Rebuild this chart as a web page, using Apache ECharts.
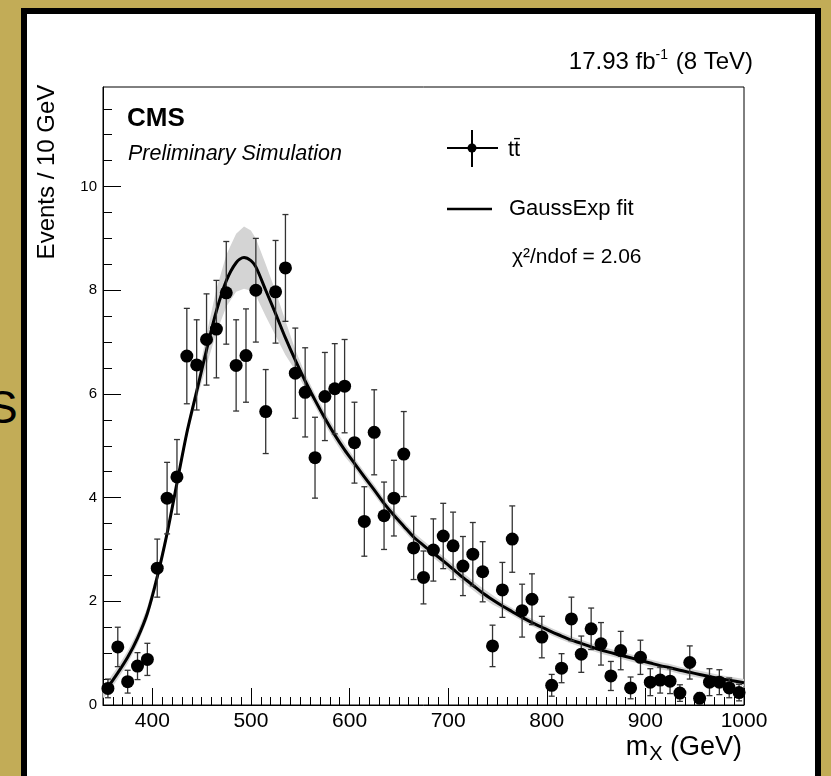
<!DOCTYPE html>
<html>
<head>
<meta charset="utf-8">
<script src="https://cdn.jsdelivr.net/npm/echarts@6/dist/echarts.min.js"></script>
<style>
  html, body { margin: 0; padding: 0; width: 831px; height: 776px; overflow: hidden; background: #c2ac57; }
  #panel { position: absolute; left: 21px; top: 8px; width: 788px; height: 800px; border: 6px solid #000; background: #fff; }
  #chart { position: absolute; left: 0; top: 0; width: 831px; height: 776px; }
  #side { position: absolute; left: -13px; top: 380px; font: 46px "Liberation Sans", Arial, sans-serif; color: #000; }
</style>
</head>
<body>
<div id="side">S</div>
<div id="panel"></div>
<div id="chart"></div>
<script>
// ---- data ----
var binCenters = [355,365,375,385,395,405,415,425,435,445,455,465,475,485,495,505,515,525,535,545,
  555,565,575,585,595,605,615,625,635,645,655,665,675,685,695,705,715,725,735,745,
  755,765,775,785,795,805,815,825,835,845,855,865,875,885,895,905,915,925,935,945,
  955,965,975,985,995];
var eventCounts = [0.32,1.12,0.45,0.75,0.88,2.64,3.99,4.40,6.73,6.56,7.05,7.25,7.95,6.55,6.74,8.00,5.66,7.97,8.43,6.40,
  6.03,4.77,5.95,6.10,6.15,5.06,3.54,5.26,3.65,3.99,4.84,3.03,2.46,2.99,3.26,3.07,2.68,2.91,2.57,1.14,
  2.22,3.20,1.82,2.04,1.31,0.38,0.71,1.66,0.98,1.47,1.18,0.56,1.05,0.33,0.92,0.44,0.48,0.46,0.23,0.82,
  0.13,0.44,0.44,0.33,0.24];
var eventErrors = [0.18,0.38,0.22,0.26,0.31,0.56,0.69,0.72,0.92,0.87,0.88,0.94,0.99,0.88,0.90,1.00,0.81,0.99,1.03,0.87,
  0.86,0.78,0.85,0.87,0.90,0.78,0.67,0.82,0.65,0.73,0.82,0.61,0.51,0.60,0.63,0.65,0.57,0.61,0.58,0.40,
  0.53,0.64,0.51,0.49,0.40,0.21,0.28,0.42,0.35,0.40,0.41,0.28,0.37,0.21,0.33,0.26,0.25,0.24,0.16,0.32,
  0.11,0.26,0.24,0.19,0.16];
var fitX = [350,355,365,375,385,395,405,415,425,435,445,455,465,475,485,493,500,505,515,525,
  535,545,555,565,575,585,595,605,615,625,635,645,655,665,675,685,695,705,715,725,
  735,745,755,765,775,785,795,805,815,825,835,845,855,865,875,885,895,905,915,925,
  935,945,955,965,975,985,1000];
var fitY = [0.25,0.35,0.62,0.92,1.29,1.77,2.47,3.31,4.28,5.25,6.05,6.85,7.6,8.18,8.53,8.63,8.57,8.45,8.0,7.55,
  7.08,6.65,6.25,5.88,5.53,5.21,4.92,4.66,4.40,4.15,3.89,3.66,3.45,3.24,3.08,2.93,2.78,2.62,2.46,2.31,
  2.16,2.03,1.91,1.80,1.69,1.59,1.50,1.41,1.33,1.25,1.19,1.12,1.06,1.01,0.96,0.91,0.86,0.81,0.76,0.72,
  0.67,0.63,0.59,0.55,0.51,0.48,0.43];
var fitBandHalf = [0.12,0.12,0.12,0.12,0.12,0.12,0.12,0.10,0.10,0.10,0.15,0.30,0.42,0.50,0.56,0.60,0.58,0.55,0.50,0.43,
  0.33,0.20,0.14,0.12,0.12,0.12,0.12,0.10,0.10,0.10,0.09,0.09,0.09,0.09,0.09,0.09,0.09,0.09,0.09,0.09,
  0.09,0.09,0.07,0.07,0.07,0.07,0.07,0.07,0.07,0.07,0.07,0.07,0.07,0.07,0.07,0.07,0.07,0.07,0.07,0.07,
  0.07,0.07,0.07,0.07,0.07,0.07,0.07];
var xMajorTicks = [400,500,600,700,800,900,1000];
var yMajorTicks = [0,2,4,6,8,10];
var xMinorTicks = []; for (var t = 360; t < 1000; t += 10) { if (t % 100 !== 0) xMinorTicks.push(t); }
var yMinorTicks = []; for (var u = 0.5; u < 11.9; u += 0.5) { if (u % 2 !== 0) yMinorTicks.push(u); }
var xRange = [350, 1000];
var yRange = [0, 11.92];

// ---- build ----
var FONT = '"Liberation Sans", Arial, sans-serif';
var pts = binCenters.map(function (x, i) { return [x, eventCounts[i]]; });
var bars = binCenters.map(function (x, i) { return [x, eventCounts[i] - eventErrors[i], eventCounts[i] + eventErrors[i]]; });
var fitLine = fitX.map(function (x, i) { return [x, fitY[i]]; });
var bandData = fitX.map(function (x, i) { return [x, fitY[i] - fitBandHalf[i], fitY[i] + fitBandHalf[i]]; });

var chart = echarts.init(document.getElementById('chart'), null, { renderer: 'canvas' });
var axisCommon = { type: 'value', min: xRange[0], max: xRange[1], splitLine: { show: false } };
chart.setOption({
  animation: false,
  textStyle: { fontFamily: FONT },
  grid: { left: 103, top: 87, right: 87, bottom: 71, show: true, borderColor: '#000', borderWidth: 1, backgroundColor: 'transparent' },
  xAxis: [
    Object.assign({}, axisCommon, {
      position: 'bottom',
      axisLine: { show: true, onZero: false, lineStyle: { color: '#000', width: 1 } },
      axisTick: { show: true, inside: true, length: 17, customValues: xMajorTicks, lineStyle: { color: '#000', width: 1 } },
      axisLabel: { show: true, customValues: xMajorTicks, fontSize: 21, color: '#000', margin: 6, fontFamily: FONT,
        formatter: function (v) { return String(v); } }
    }),
    Object.assign({}, axisCommon, {
      position: 'bottom',
      axisLine: { show: false },
      axisTick: { show: true, inside: true, length: 8, customValues: xMinorTicks, lineStyle: { color: '#000', width: 1 } },
      axisLabel: { show: false }
    })
  ],
  yAxis: [
    { type: 'value', min: yRange[0], max: yRange[1], position: 'left', splitLine: { show: false },
      axisLine: { show: true, onZero: false, lineStyle: { color: '#000', width: 1 } },
      axisTick: { show: true, inside: true, length: 18, customValues: yMajorTicks, lineStyle: { color: '#000', width: 1 } },
      axisLabel: { show: true, customValues: yMajorTicks, fontSize: 15, color: '#000', margin: 6, fontFamily: FONT } },
    { type: 'value', min: yRange[0], max: yRange[1], position: 'left', splitLine: { show: false },
      axisLine: { show: false },
      axisTick: { show: true, inside: true, length: 9, customValues: yMinorTicks, lineStyle: { color: '#000', width: 1 } },
      axisLabel: { show: false } }
  ],
  series: [
    { type: 'custom', name: 'band', xAxisIndex: 0, yAxisIndex: 0, z: 1, silent: true,
      data: [0],
      renderItem: function (params, api) {
        var up = [], lo = [];
        for (var i = 0; i < bandData.length; i++) {
          up.push(api.coord([bandData[i][0], bandData[i][2]]));
          lo.push(api.coord([bandData[i][0], bandData[i][1]]));
        }
        var poly = up.concat(lo.reverse());
        return { type: 'polygon', shape: { points: poly, smooth: 0 }, style: { fill: '#d4d4d4', stroke: null } };
      }
    },
    { type: 'line', name: 'GaussExp fit', data: fitLine, xAxisIndex: 0, yAxisIndex: 0, z: 2,
      showSymbol: false, symbol: 'none', smooth: 0.3, lineStyle: { color: '#000', width: 3 } },
    { type: 'custom', name: 'errors', xAxisIndex: 0, yAxisIndex: 0, z: 3, data: bars,
      renderItem: function (params, api) {
        var x = api.value(0);
        var a = api.coord([x, api.value(1)]);
        var b = api.coord([x, api.value(2)]);
        var c = 3;
        var st = { stroke: '#333', lineWidth: 1.3 };
        return { type: 'group', children: [
          { type: 'line', shape: { x1: a[0], y1: a[1], x2: b[0], y2: b[1] }, style: st },
          { type: 'line', shape: { x1: a[0] - c, y1: a[1], x2: a[0] + c, y2: a[1] }, style: st },
          { type: 'line', shape: { x1: b[0] - c, y1: b[1], x2: b[0] + c, y2: b[1] }, style: st }
        ] };
      }
    },
    { type: 'scatter', name: 'tt', data: pts, xAxisIndex: 0, yAxisIndex: 0, z: 4,
      symbol: 'circle', symbolSize: 13, itemStyle: { color: '#000', opacity: 1 } }
  ],
  graphic: [
    { type: 'text', x: 753, y: 62, style: {
        text: '{a|17.93 fb}{s|-1}{a| (8 TeV)}', textAlign: 'right', textVerticalAlign: 'middle',
        rich: { a: { fontSize: 24, fontFamily: FONT, fill: '#000', lineHeight: 28 },
                s: { fontSize: 14, fontFamily: FONT, fill: '#000', lineHeight: 28, verticalAlign: 'top', padding: [0, 1, 12, 0] } } } },
    { type: 'text', x: 127, y: 119, style: { text: 'CMS', font: 'bold 26px ' + FONT, fill: '#000', textVerticalAlign: 'middle' } },
    { type: 'text', x: 128, y: 154, style: { text: 'Preliminary Simulation', font: 'italic 21.5px ' + FONT, fill: '#000', textVerticalAlign: 'middle' } },
    { type: 'line', shape: { x1: 447, y1: 148, x2: 498, y2: 148 }, style: { stroke: '#000', lineWidth: 2 } },
    { type: 'line', shape: { x1: 472, y1: 130, x2: 472, y2: 167 }, style: { stroke: '#000', lineWidth: 2 } },
    { type: 'circle', shape: { cx: 472, cy: 148, r: 4.5 }, style: { fill: '#000' } },
    { type: 'text', x: 508, y: 150, style: { text: 'tt\u0304', font: '22px ' + FONT, fill: '#000', textVerticalAlign: 'middle' } },
    { type: 'line', shape: { x1: 447, y1: 209, x2: 492, y2: 209 }, style: { stroke: '#000', lineWidth: 2.5 } },
    { type: 'text', x: 509, y: 209, style: { text: 'GaussExp fit', font: '22px ' + FONT, fill: '#000', textVerticalAlign: 'middle' } },
    { type: 'text', x: 512, y: 257, style: { text: '\u03c7\u00b2/ndof = 2.06', font: '21px ' + FONT, fill: '#000', textVerticalAlign: 'middle' } },
    { type: 'text', x: 47, y: 172, rotation: Math.PI / 2, style: { text: 'Events / 10 GeV', font: '24px ' + FONT, fill: '#000', textAlign: 'center', textVerticalAlign: 'middle' } },
    { type: 'text', x: 742, y: 748, style: {
        text: '{m|m}{sub|X}{m| (GeV)}', textAlign: 'right', textVerticalAlign: 'middle',
        rich: { m: { fontSize: 27, fontFamily: FONT, fill: '#000', lineHeight: 32 },
                sub: { fontSize: 20, fontFamily: FONT, fill: '#000', lineHeight: 32, verticalAlign: 'bottom', padding: [12, 0, 0, 1] } } } }
  ]
});
</script>
</body>
</html>
